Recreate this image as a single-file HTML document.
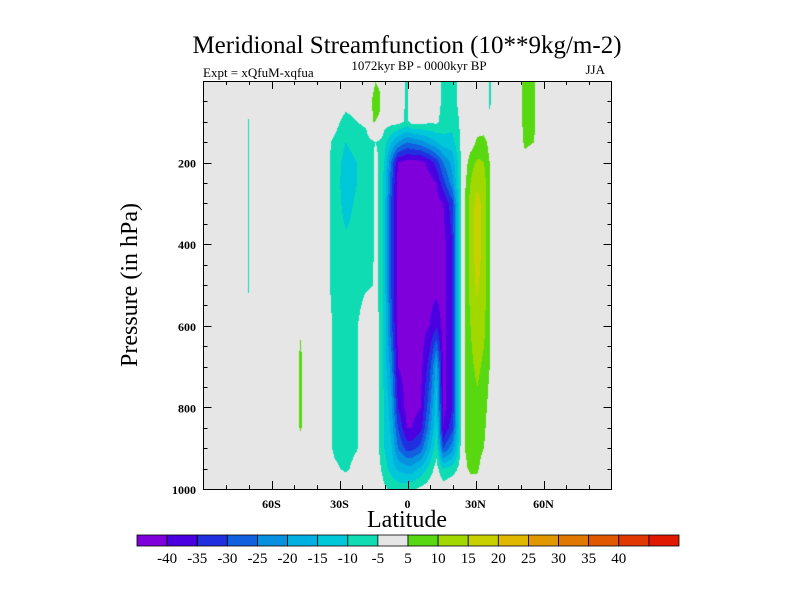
<!DOCTYPE html>
<html><head><meta charset="utf-8"><style>
body{margin:0;background:#fff;width:800px;height:600px;overflow:hidden}
svg text{font-family:"Liberation Serif",serif}
</style></head><body>
<svg id="s" width="800" height="600" xmlns="http://www.w3.org/2000/svg">
<text x="407" y="53" font-size="25" text-anchor="middle">Meridional Streamfunction (10**9kg/m-2)</text>
<text x="203" y="77" font-size="13">Expt = xQfuM-xqfua</text>
<text x="419" y="70" font-size="13" text-anchor="middle">1072kyr BP - 0000kyr BP</text>
<text x="605" y="74" font-size="13" text-anchor="end">JJA</text>
<foreignObject x="203" y="81" width="408" height="408"><canvas id="cv" width="408" height="408" xmlns="http://www.w3.org/1999/xhtml" style="display:block"></canvas></foreignObject>
<rect x="203.5" y="81.5" width="408" height="408" fill="none" stroke="#000" stroke-width="1"/>
<g id="ticks"></g>
<text x="407" y="527" font-size="24" text-anchor="middle">Latitude</text>
<text transform="translate(137,285) rotate(-90)" font-size="24" text-anchor="middle">Pressure (in hPa)</text>
<g id="cbar"></g>
</svg>
<script>
const lats=[-90,-72,-70,-68,-50,-47,-44,-40,-35,-32,-27,-22,-18,-15,-14,-12,-10,-7,-4,0,2,6,10,13,16,20,23,25.5,28,31,34,36.5,38,40,48,52,56,60,90];
const levels=[0,50,100,150,200,250,300,400,500,600,700,800,850,900,950,1000];
// values[col][level]
const values=[
[0,0,0,0,0,0,0,0,0,0,0,0,0,0,0,0],
[0,0,0,0,0,0,0,0,0,0,0,0,0,0,0,0],
[0,0,-6,-6,-6,-6,-6,-6,-6,-2,0,0,0,0,0,0],
[0,0,0,0,0,0,0,0,0,0,0,0,0,0,0,0],
[0,0,0,0,0,0,0,0,0,0,0,0,0,0,0,0],
[0,0,0,0,0,0,0,0,0,4,7,7,6,0,0,0],
[0,0,0,0,0,0,0,0,0,0,0,0,0,0,0,0],
[0,0,0,0,0,0,0,0,0,0,0,0,0,0,0,0],
[0,0,-3,-4,-4,-4,-4,-4,-4,-3,-3,-3,-3,-3,-2,0],
[0,0,-3,-6,-7,-7,-7,-7,-7,-6,-6,-6,-6,-6,-4,0],
[0,-3,-7,-10,-12,-13,-12,-9,-8,-7,-7,-7,-7,-7,-6,-1],
[0,-2,-5,-8,-10,-10,-9,-8,-8,-5.5,-5.5,-5.5,-5.5,-5.3,-3,0],
[0,0,-4,-7,-7,-7,-7,-7,-6,0,0,0,0,0,0,0],
[3,6,5,-6,-6,-6,-6,-6,-5,0,0,0,0,0,0,0],
[5,7,5,-5,-3,-3,-3,-3,-3,-1,0,0,0,0,0,0],
[4,6,4,-6,-6,-7,-7,-7,-7,-6,-6,-6,-6,-6,-4,-1],
[0,-2,-3,-8,-10,-12,-12,-12,-12,-12,-12,-10,-10,-10,-8,-4],
[-2,-2,-3,-14,-25,-28,-30,-30,-30,-28,-22,-18,-16,-14,-12,-6],
[-2,-2,-3,-20,-40,-42,-42,-42,-42,-42,-40,-35,-30,-25,-16,-7],
[-6,-6,-6,-25,-42,-42,-42,-42,-42,-42,-42,-42,-40,-32,-18,-7],
[-2,-2,-3,-24,-42,-42,-42,-42,-42,-42,-42,-42,-40,-32,-18,-6],
[-2,-2,-3,-22,-42,-42,-42,-42,-42,-42,-42,-40,-37,-28,-14,-4],
[-2,-2,-4,-18,-38,-42,-42,-42,-42,-40,-32,-26,-22,-16,-8,-2],
[-3,-3,-4,-15,-33,-40,-42,-42,-42,-36,-18,-12,-10,-7,-3,0],
[-6,-6,-7,-12,-25,-32,-40,-42,-42,-42,-42,-42,-40,-30,-10,-2],
[-7,-7,-8,-12,-18,-22,-32,-35,-35,-35,-35,-35,-32,-22,-8,0],
[-4,-4,-5,-6,-8,-8,-10,-10,-10,-10,-10,-10,-10,-8,-4,0],
[0,0,0,0,2,4,5,5,5,5,5,5,5,5,4,0],
[0,0,0,2,8,10,12,12,12,10,9,8,8,7,6,2],
[0,0,2,6,11,14,17,18,16,13,11,9,8,7,6,2],
[0,0,1,7,10,12,13,13,12,11,9,7,6,5,2,0],
[-6,-6,-4,3,5,6,6,6,6,6,5,3,2,0,0,0],
[-3,-3,-2,0,0,0,0,0,0,0,0,0,0,0,0,0],
[0,0,0,0,0,0,0,0,0,0,0,0,0,0,0,0],
[0,0,0,0,0,0,0,0,0,0,0,0,0,0,0,0],
[7,7,7,6,3,0,0,0,0,0,0,0,0,0,0,0],
[6,6,6,5,2,0,0,0,0,0,0,0,0,0,0,0],
[0,0,0,0,0,0,0,0,0,0,0,0,0,0,0,0],
[0,0,0,0,0,0,0,0,0,0,0,0,0,0,0,0]];
const bounds=[-40,-35,-30,-25,-20,-15,-10,-5,5,10,15,20,25,30,35,40];
const cbLabels=["-40","-35","-30","-25","-20","-15","-10","-5","5","10","15","20","25","30","35","40"];
const colors=["#8000dc","#4a00e0","#2030e0","#1060e0","#0890e0","#00b0e0","#00c8d8","#10dcb4","#e6e6e6","#58d810","#a0d800","#c8d000","#e0b800","#e09800","#e07800","#e05800","#e03800","#e01800"];
const yTicks=[200,400,600,800,1000];
const xTicks=[-60,-30,0,30,60];
const xTickLabels=["60S","30S","0","30N","60N"];

const X0=203.5,W=408,Y0=81,H=408;
const xs=l=>X0+(l+90)/180*W;
const ys=p=>Y0+p/1000*H;
function idx(arr,v){let i=0;while(i<arr.length-2&&arr[i+1]<v)i++;return i;}
function hex(c){return[parseInt(c.substr(1,2),16),parseInt(c.substr(3,2),16),parseInt(c.substr(5,2),16)];}
const rgb=colors.map(hex);
const cv=document.getElementById('cv'),ctx=cv.getContext('2d');
const img=ctx.createImageData(408,408);
for(let py=0;py<408;py++){const p=(py+0.5)/408*1000;const j=idx(levels,p);const tp=(p-levels[j])/(levels[j+1]-levels[j]);
 for(let px=0;px<408;px++){const l=-90+(px+0.5)/408*180;const i=idx(lats,l);const tl=(l-lats[i])/(lats[i+1]-lats[i]);
  const v=(values[i][j]*(1-tp)+values[i][j+1]*tp)*(1-tl)+(values[i+1][j]*(1-tp)+values[i+1][j+1]*tp)*tl;
  let k=0;for(const b of bounds){if(v>=b)k++;}const c=rgb[k];const o=(py*408+px)*4;
  img.data[o]=c[0];img.data[o+1]=c[1];img.data[o+2]=c[2];img.data[o+3]=255;}}
ctx.putImageData(img,0,0);

const NS="http://www.w3.org/2000/svg";
const tg=document.getElementById('ticks');
function line(x1,y1,x2,y2){const e=document.createElementNS(NS,'line');e.setAttribute('x1',x1);e.setAttribute('y1',y1);e.setAttribute('x2',x2);e.setAttribute('y2',y2);e.setAttribute('stroke','#000');e.setAttribute('stroke-width','1');


tg.appendChild(e);}
function txt(g,x,y,s,size,anchor,name){const t=document.createElementNS(NS,'text');t.setAttribute('x',x);t.setAttribute('y',y);t.setAttribute('font-size',size);t.setAttribute('text-anchor',anchor);t.setAttribute('font-weight','bold');t.textContent=s;


g.appendChild(t);}
for(let p=50;p<1000;p+=50){const y=Math.round(ys(p))+0.5;const L=p%200===0?8:4;line(X0,y,X0+L,y);line(X0+W,y,X0+W-L,y);}
for(let l=-80;l<=80;l+=10){const x=Math.round(xs(l))+0.5;const L=l%30===0?8:4;line(x,Y0+H,x,Y0+H-L);line(x,Y0,x,Y0+L);}
yTicks.forEach(p=>txt(tg,196,ys(p)+5,String(p),12,'end','y-tick-label'));
xTicks.forEach((l,i)=>txt(tg,xs(l),508,xTickLabels[i],12,'middle','x-tick-label'));
const cb=document.getElementById('cbar');const CX=137,CW=542,CY=535,CH=11,bw=CW/colors.length;
colors.forEach((c,i)=>{const r=document.createElementNS(NS,'rect');r.setAttribute('x',CX+i*bw);r.setAttribute('y',CY);r.setAttribute('width',bw);r.setAttribute('height',CH);r.setAttribute('fill',c);r.setAttribute('stroke','#000');r.setAttribute('stroke-width','0.8');


cb.appendChild(r);});
cbLabels.forEach((s,i)=>{const t=document.createElementNS(NS,'text');t.setAttribute('x',CX+(i+1)*bw);t.setAttribute('y',563);t.setAttribute('font-size','15');t.setAttribute('text-anchor','middle');t.textContent=s;


cb.appendChild(t);});
</script>
</body></html>
